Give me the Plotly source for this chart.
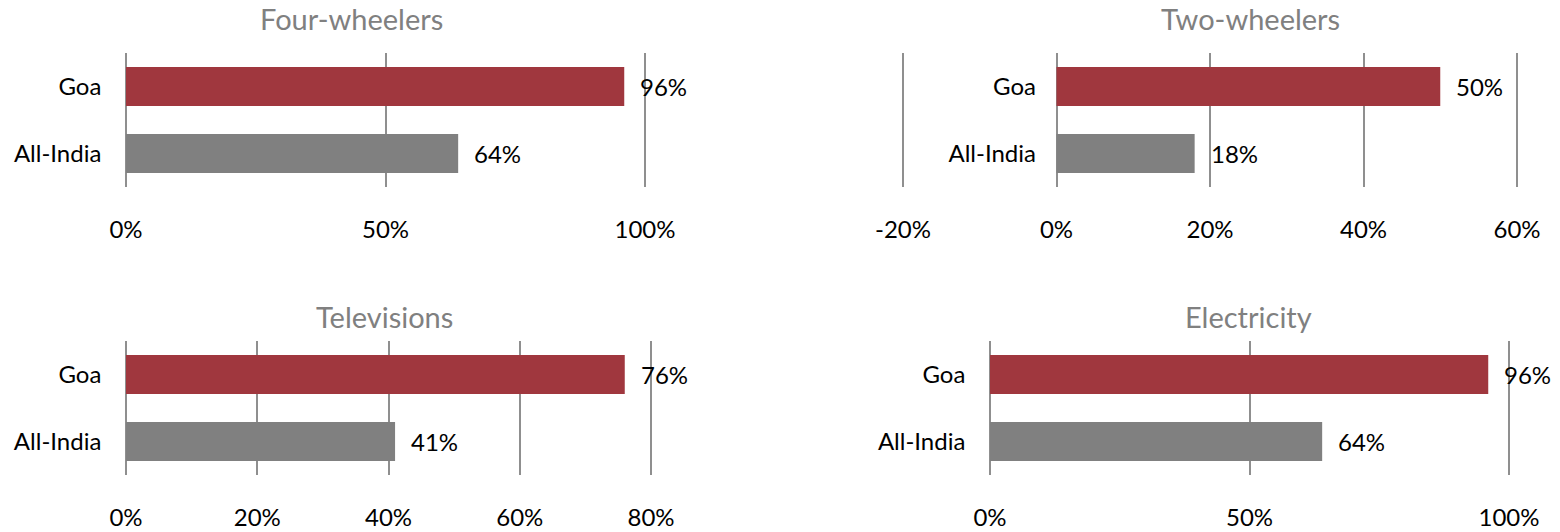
import plotly.graph_objects as go

# ---- data ----
categories = ["All-India", "Goa"]
titles = ["Four-wheelers", "Two-wheelers", "Televisions", "Electricity"]
four_wheelers = [0.64, 0.96]
two_wheelers = [0.18, 0.50]
televisions = [0.41, 0.76]
electricity = [0.64, 0.96]
series = [four_wheelers, two_wheelers, televisions, electricity]
x_ranges = [[0, 1.0], [-0.2, 0.6], [0, 0.8], [0, 1.0]]
tick_vals = [
    [0, 0.5, 1.0],
    [-0.2, 0, 0.2, 0.4, 0.6],
    [0, 0.2, 0.4, 0.6, 0.8],
    [0, 0.5, 1.0],
]
tick_text = [
    ["0%", "50%", "100%"],
    ["-20%", "0%", "20%", "40%", "60%"],
    ["0%", "20%", "40%", "60%", "80%"],
    ["0%", "50%", "100%"],
]

bar_colors = ["#808080", "#A0373E"]
grid_color = "#8f8f8f"
W, H = 1560, 532

# pixel boxes of each plot area (left, right, top, bottom)
boxes = [(126, 645, 53, 187), (903, 1517, 53, 187), (126, 651, 341, 475), (990, 1509, 341, 475)]
title_pos = [(351, 19), (1250, 19), (384, 316), (1248, 316)]
yaxis_pos = [None, 1057, None, None]
PAD = 0.005  # small range padding so edge gridlines are drawn

label_font = dict(family="Lato, Carlito, sans-serif", size=24, color="#000000")
title_font = dict(family="Lato, sans-serif", size=29, color="#808080")

fig = go.Figure()
layout = {}
annotations = []
for i in range(4):
    n = "" if i == 0 else str(i + 1)
    xa, ya = "x" + n, "y" + n
    l, r, t, b = boxes[i]
    lo, hi = x_ranges[i]
    span = hi - lo
    wpx = r - l
    fig.add_trace(go.Bar(
        x=series[i], y=categories, orientation="h",
        marker=dict(color=bar_colors, line=dict(width=0)),
        width=0.58, xaxis=xa, yaxis=ya, showlegend=False, hoverinfo="skip",
    ))
    layout["xaxis" + n] = dict(
        domain=[(l - wpx * PAD) / W, (r + wpx * PAD) / W], anchor=ya,
        range=[lo - span * PAD, hi + span * PAD],
        tickvals=tick_vals[i], ticktext=tick_text[i],
        showgrid=True, gridcolor=grid_color, gridwidth=2,
        zeroline=False, showline=False, ticks="", ticklabelstandoff=26,
        tickfont=label_font, fixedrange=True, automargin=False,
    )
    ydict = dict(
        domain=[1 - b / H, 1 - t / H], categoryorder="array", categoryarray=categories,
        range=[-0.5, 1.5], showgrid=False, zeroline=False, showline=False, ticks="",
        ticklabelstandoff=21, tickfont=label_font, fixedrange=True, automargin=False,
    )
    if yaxis_pos[i] is not None:
        ydict.update(anchor="free", position=yaxis_pos[i] / W)
    else:
        ydict.update(anchor=xa)
    layout["yaxis" + n] = ydict
    for v, c in zip(series[i], categories):
        annotations.append(dict(
            x=v, y=c, xref=xa, yref=ya, text=f"{round(v * 100)}%", showarrow=False,
            xanchor="left", yanchor="middle", xshift=14, font=label_font,
        ))
    tx, ty = title_pos[i]
    annotations.append(dict(
        x=tx / W, y=1 - ty / H, xref="paper", yref="paper", text=titles[i],
        showarrow=False, xanchor="center", yanchor="middle", font=title_font,
    ))

fig.update_layout(
    width=W, height=H, margin=dict(l=0, r=0, t=0, b=0, autoexpand=False),
    paper_bgcolor="#ffffff", plot_bgcolor="#ffffff",
    bargap=0.42, annotations=annotations, **layout,
)
fig.write_html(
    "out.html",
    config={"displayModeBar": False},
    post_script="document.body.style.margin='0px';document.body.style.overflow='hidden';",
)
